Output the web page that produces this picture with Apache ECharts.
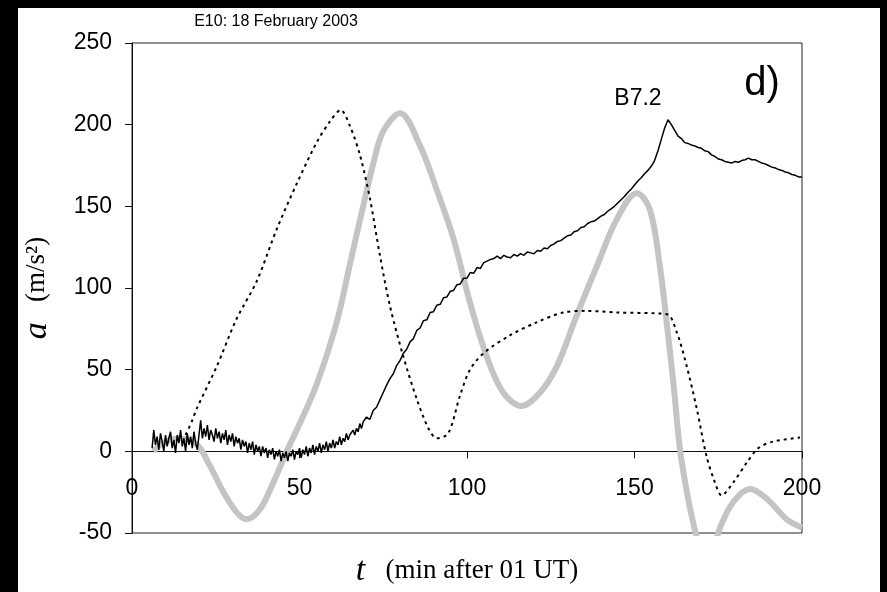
<!DOCTYPE html>
<html>
<head>
<meta charset="utf-8">
<script src="https://cdn.jsdelivr.net/npm/echarts@6/dist/echarts.min.js"></script>
<style>
  html, body { margin: 0; padding: 0; background: #000; }
  #chart { width: 887px; height: 592px; }
</style>
</head>
<body>
<div id="chart"></div>
<script>
// ---- Data ----
const titleText = 'E10: 18 February 2003';
const xTicks = [0, 50, 100, 150, 200];
const yTicks = [-50, 0, 50, 100, 150, 200, 250];

// Observed (noisy black) curve
// early part: one value every 0.5 min from t = 6 to 69.5
const obsEarlyStart = 6, obsEarlyStep = 0.5;
const obsEarly = [
  2, 13, 4, 9, 1, 11, 6, 0, 10, 3,        // 6-10.5
  8, 12, 2, 7, -1, 10, 5, 13, 3, 8,       // 11-15.5
  0, 11, 4, 9, 2, 12, 5, 1, 10, 19,       // 16-20.5
  8, 14, 9, 16, 7, 13, 10, 6, 14, 8,      // 21-25.5
  12, 5, 11, 7, 13, 4, 10, 6, 11, 3,      // 26-30.5
  9, 5, 8, 1, 7, 3, 6, -1, 5, 1,          // 31-35.5
  6, -2, 4, 0, 3, -3, 3, -1, 2, -4,       // 36-40.5
  1, -2, 2, -5, 0, -3, 1, -6, -1, -4,     // 41-45.5
  0, -6, -1, -3, 1, -5, 0, -2, 2, -4,     // 46-50.5
  1, -2, 3, -3, 2, -1, 4, -2, 3, 0,       // 51-55.5
  5, -1, 4, 1, 6, 0, 5, 2, 7, 2,          // 56-60.5
  6, 4, 9, 4, 8, 6, 11, 7, 10, 9,         // 61-65.5
  13, 10, 14, 12, 17, 14, 18, 17          // 66-69.5
];
// late part: one value per minute from t = 70 to 200
const obsLateStart = 70, obsLateStep = 1;
const obsLate = [
  21, 19.5, 25, 27, 31.5, 36,                                     // 70-75
  40.5, 44.5, 47.5, 52.5, 55.5, 60, 62.5, 67, 69, 74,             // 76-85
  75.5, 80, 80.5, 85, 85.5, 89.5, 90, 94, 94.5, 98,               // 86-95
  98.5, 102, 102.5, 106, 106, 109.5, 109, 112.5, 112, 115.5,      // 96-105
  116.5, 117.5, 118, 119.5, 118, 120, 119, 118.5, 120.5, 119.5,   // 106-115
  121, 120, 122, 121.5, 121, 123, 122.5, 124.5, 124, 126,         // 116-125
  127, 128.5, 129, 130.5, 132, 132.5, 134.5, 135, 137, 137.5,     // 126-135
  139.5, 140.5, 141, 142.5, 144, 145, 147, 148.5, 150, 152,       // 136-145
  154, 156, 158.5, 160.5, 163, 165.5, 167.5, 170, 172, 174.5,     // 146-155
  178, 184, 191, 198, 203, 200, 196.5, 193, 191.5, 189,           // 156-165
  188.5, 187.5, 187, 186, 185.5, 184, 183.5, 181.5, 180.5, 179,   // 166-175
  178.5, 177.5, 177, 176.5, 177.5, 177, 178, 178.5, 179.5, 178.5, // 176-185
  178.5, 177.5, 176.5, 176, 175, 174, 173.5, 172.5, 172, 171,     // 186-195
  170.5, 169.5, 169, 168, 168                                     // 196-200
];

// Dotted curve
const dotT = [16, 17.8, 19.3, 25.3, 31.2, 37.2, 43.2, 49.2, 55.1, 59.1, 62.3, 65.1, 68.1, 71, 74, 77, 81, 85, 88.5, 91, 94.4, 97.9, 100.9, 104.9, 112.8, 120.8, 128.7, 135.7, 144.7, 159.6, 162.6, 165.6, 168.6, 171.5, 174, 176, 179.5, 183.5, 187, 191.4, 199.4];
const dotA = [10, 18, 26, 52, 81, 104, 136, 164, 189, 202, 209, 199, 181, 155, 120, 89, 58, 32, 14, 8, 11, 34, 50, 60, 71, 79, 85, 86, 85, 84, 73, 52, 26, -3, -19, -27, -19, -7, 2, 6, 8.4];

// Thick gray curve
const grayT = [6.4, 9.4, 14.3, 19.3, 23.3, 27.3, 31.3, 34.2, 38.2, 42.2, 46.2, 51.1, 55.5, 61.1, 65.1, 69, 72, 75, 80, 86, 91, 96, 100.9, 105.9, 110.8, 116.3, 121.8, 126.8, 132.7, 138.7, 144.7, 150.7, 154.6, 157.6, 159.6, 161.6, 163.6, 166, 168.5, 171, 173, 175.3, 179.5, 184.5, 189.5, 195.4, 200];
const grayA = [0, 5.3, 7.8, 4.3, -9, -25, -37.5, -41.6, -35.5, -19, 0, 21.6, 43, 79, 115, 150, 176, 196, 207, 187, 160, 130, 91, 58, 36, 27.8, 36, 52, 83, 113, 142, 158, 148, 113, 79, 42, 1, -29, -52, -70, -66, -48, -31, -23, -29, -41.6, -46.7];

const flareLabel = 'B7.2';
const panelLabel = 'd)';
const xName = ['t', '(min after 01 UT)'];
const yName = ['a', '(m/s²)'];

// ---- Build series data ----
const obsData = obsEarly.map((v, i) => [obsEarlyStart + i * obsEarlyStep, v])
  .concat(obsLate.map((v, i) => [obsLateStart + i * obsLateStep, v]));
const dotData = dotT.map((t, i) => [t, dotA[i]]);
const grayData = grayT.map((t, i) => [t, grayA[i]]);

const chart = echarts.init(document.getElementById('chart'), null, { renderer: 'canvas' });
const sans = '"Liberation Sans", Arial, Helvetica, sans-serif';
const serif = '"Liberation Serif", "Times New Roman", serif';

chart.setOption({
  animation: false,
  backgroundColor: 'transparent',
  grid: {
    left: 132, right: 85, top: 43, bottom: 59,
    containLabel: false, outerBoundsMode: 'none',
    show: true, borderColor: '#222', borderWidth: 1, backgroundColor: 'transparent'
  },
  xAxis: {
    type: 'value', min: 0, max: 200, interval: 50,
    axisLine: { onZero: true, lineStyle: { color: '#111', width: 1 } },
    axisTick: { show: true, length: 7, lineStyle: { color: '#111' } },
    axisLabel: {
      color: '#000', fontSize: 23, fontFamily: sans, margin: -56,
      showMinLabel: true, showMaxLabel: true,
      formatter: v => (xTicks.indexOf(v) >= 0 ? String(v) : '')
    },
    splitLine: { show: false },
    name: '{t|' + xName[0] + '}{u|   ' + xName[1] + '}',
    nameLocation: 'middle', nameGap: 21,
    nameTextStyle: {
      rich: {
        t: { fontFamily: serif, fontStyle: 'italic', fontSize: 34, color: '#000' },
        u: { fontFamily: serif, fontSize: 27, color: '#000' }
      }
    }
  },
  yAxis: {
    type: 'value', min: -50, max: 250, interval: 50,
    axisLine: { show: true, onZero: false, lineStyle: { color: '#111', width: 1 } },
    axisTick: { show: true, length: 7, lineStyle: { color: '#111' } },
    axisLabel: {
      color: '#000', fontSize: 23, fontFamily: sans, margin: 20,
      formatter: v => (yTicks.indexOf(v) >= 0 ? String(v) : '')
    },
    splitLine: { show: false },
    name: '{a|' + yName[0] + '}{u|   ' + yName[1] + '}',
    nameLocation: 'middle', nameGap: 78, nameRotate: 90,
    nameTextStyle: {
      rich: {
        a: { fontFamily: serif, fontStyle: 'italic', fontSize: 34, color: '#000' },
        u: { fontFamily: serif, fontSize: 27, color: '#000' }
      }
    }
  },
  series: [
    {
      name: 'gray', type: 'line', data: grayData, smooth: 0.35, showSymbol: false,
      lineStyle: { color: '#c4c4c4', width: 6 }, z: 2, clip: true
    },
    {
      name: 'dotted', type: 'line', data: dotData, smooth: 0.3, showSymbol: false,
      lineStyle: { color: '#000', width: 2, type: [3, 4] }, z: 3, clip: true
    },
    {
      name: 'observed', type: 'line', data: obsData, showSymbol: false,
      lineStyle: { color: '#000', width: 1.5 }, z: 4, clip: true
    }
  ],
  graphic: [
    { type: 'rect', z: -100, shape: { x: 18, y: 8, width: 862, height: 584 }, style: { fill: '#fff' } },
    { type: 'text', x: 276, y: 22, style: { text: titleText, font: '16px ' + sans, fill: '#000', textAlign: 'center', textVerticalAlign: 'middle', align: 'center', verticalAlign: 'middle' } },
    { type: 'text', x: 638, y: 99, style: { text: flareLabel, font: '23px ' + sans, fill: '#000', textAlign: 'center', textVerticalAlign: 'middle', align: 'center', verticalAlign: 'middle' } },
    { type: 'text', x: 762, y: 84, style: { text: panelLabel, font: '40px ' + sans, fill: '#000', textAlign: 'center', textVerticalAlign: 'middle', align: 'center', verticalAlign: 'middle' } }
  ]
});
</script>
</body>
</html>
